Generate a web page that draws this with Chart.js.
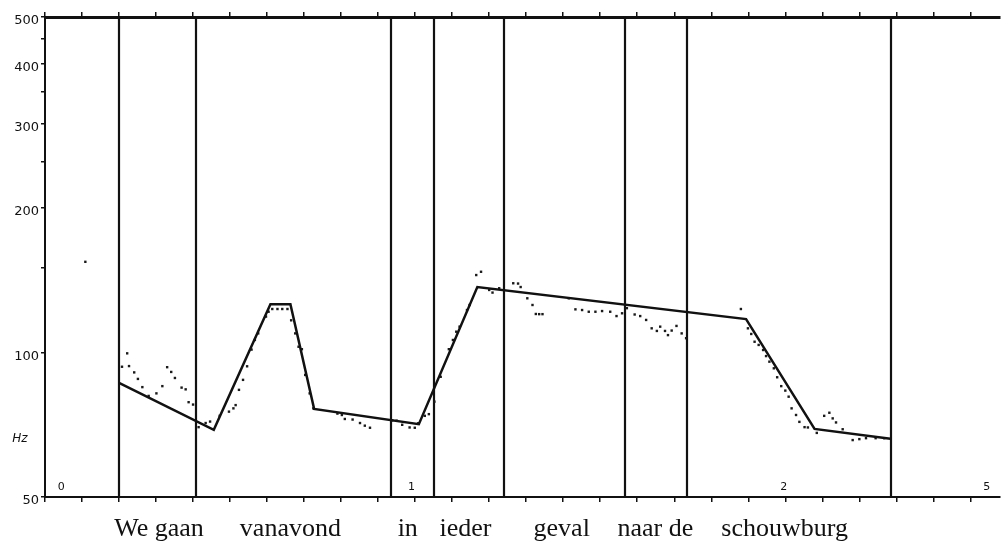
<!DOCTYPE html>
<html>
<head>
<meta charset="utf-8">
<script src="https://cdn.jsdelivr.net/npm/chart.js@4.4.0/dist/chart.umd.min.js"></script>
<style>
    html, body { margin: 0; padding: 0; background: #fff; }
</style>
</head>
<body>
<canvas id="pitchChart" width="1004" height="548"></canvas>
<script>
        // stylized pitch contour (seconds, Hz)
        const contourTimes = [0.200, 0.456, 0.609, 0.663, 0.727, 1.010, 1.168, 1.894, 2.079, 2.284];
        const contourHz = [86.4, 69.0, 126.1, 126.1, 76.3, 70.9, 136.9, 117.4, 69.3, 66.1];

        // measured pitch points
        const pitchTimes = [0.109, 0.208, 0.222, 0.227, 0.241, 0.251, 0.263, 0.280, 0.301, 0.317,
            0.330, 0.341, 0.351, 0.369, 0.380, 0.388, 0.400, 0.415, 0.434, 0.446,
            0.472, 0.497, 0.509, 0.515, 0.524, 0.535, 0.546, 0.558, 0.567, 0.576,
            0.597, 0.604, 0.614, 0.628, 0.641, 0.655, 0.665, 0.676, 0.685, 0.694,
            0.703, 0.715, 0.725, 0.790, 0.802, 0.810, 0.831, 0.851, 0.864, 0.878,
            0.938, 0.950, 0.965, 0.985, 0.999, 1.008, 1.026, 1.037, 1.052, 1.069,
            1.091, 1.102, 1.111, 1.120, 1.140, 1.147, 1.165, 1.178, 1.200, 1.209,
            1.227, 1.265, 1.278, 1.285, 1.303, 1.317, 1.326, 1.335, 1.344, 1.415,
            1.433, 1.451, 1.469, 1.487, 1.505, 1.527, 1.544, 1.559, 1.572, 1.593,
            1.608, 1.624, 1.639, 1.653, 1.662, 1.675, 1.683, 1.693, 1.706, 1.720,
            1.732, 1.880, 1.899, 1.908, 1.917, 1.928, 1.940, 1.948, 1.957, 1.969,
            1.978, 1.989, 2.000, 2.009, 2.017, 2.029, 2.038, 2.052, 2.061, 2.085,
            2.105, 2.119, 2.128, 2.137, 2.155, 2.182, 2.200, 2.218, 2.244, 2.267];
        const pitchHz = [154.5, 93.4, 99.6, 93.7, 90.9, 88.1, 84.7, 81.2, 82.2, 85.1,
            93.2, 91.1, 88.5, 84.5, 83.8, 78.8, 77.9, 69.9, 71.3, 71.8,
            73.8, 75.3, 76.5, 77.7, 83.6, 87.7, 93.6, 101.4, 106.2, 109.6,
            118.8, 121.6, 123.2, 123.2, 123.2, 123.2, 116.7, 109.6, 102.8, 101.6,
            89.8, 82.2, 76.5, 74.6, 74.1, 72.7, 72.5, 71.3, 70.4, 69.7,
            72.2, 72.1, 70.7, 69.8, 69.7, 71.2, 73.8, 74.4, 79.0, 89.0,
            101.6, 106.2, 110.5, 113.2, 122.6, 125.6, 145.0, 147.3, 135.0, 133.3,
            136.1, 139.4, 139.2, 136.9, 129.7, 125.6, 120.3, 120.2, 120.2, 129.7,
            123.0, 122.6, 121.6, 121.6, 122.0, 121.6, 119.1, 120.7, 123.7, 120.0,
            119.1, 116.9, 112.3, 110.9, 113.2, 110.9, 108.7, 111.1, 113.6, 109.6,
            107.1, 123.2, 112.3, 109.3, 105.3, 103.7, 101.2, 98.3, 95.7, 92.7,
            88.8, 85.1, 83.3, 80.9, 76.5, 74.1, 71.7, 69.9, 69.8, 68.0,
            73.8, 74.9, 72.9, 71.5, 69.2, 65.7, 66.0, 66.3, 66.3, 66.3];

        // word boundaries (seconds) and words
        const boundaryTimes = [0.200, 0.407, 0.934, 1.050, 1.240, 1.566, 1.735, 2.286];
        const words = ['We gaan', 'vanavond', 'in', 'ieder', 'geval', 'naar de', 'schouwburg'];
        const wordTimes = [0.308, 0.663, 0.980, 1.136, 1.396, 1.649, 1.998];

        // second markers written inside the plot
        const secondLabels = ['0', '1', '2', '5'];
        const secondLabelTimes = [0.044, 0.990, 1.996, 2.544];

        const yTickValues = [50, 100, 150, 200, 250, 300, 350, 400, 450, 500];
        const yLabelValues = [50, 100, 200, 300, 400, 500];
        const xMin = 0, xMax = 2.58, xStep = 0.1;

        function timeTicks() {
            let ticks = [];
            for (let i = 0; xMin + i * xStep <= xMax; i++) {
                ticks.push({ value: +(xMin + i * xStep).toFixed(2) });
            }
            return ticks;
        }

        const overlay = {
            id: 'overlay',
            beforeDatasetsDraw(chart) {
                const { ctx, chartArea, scales } = chart;
                ctx.save();
                ctx.strokeStyle = '#111';
                ctx.lineWidth = 2.2;
                boundaryTimes.forEach(t => {
                    const x = Math.round(scales.x.getPixelForValue(t));
                    ctx.beginPath();
                    ctx.moveTo(x, chartArea.top);
                    ctx.lineTo(x, chartArea.bottom);
                    ctx.stroke();
                });
                ctx.restore();
            },
            afterDraw(chart) {
                const { ctx, chartArea, scales } = chart;
                ctx.save();
                ctx.fillStyle = '#111';
                ctx.textAlign = 'center';
                ctx.textBaseline = 'alphabetic';
                ctx.font = '26px "Liberation Serif"';
                words.forEach((w, i) => {
                    ctx.fillText(w, scales.x.getPixelForValue(wordTimes[i]), 536);
                });
                ctx.font = '11px "DejaVu Sans"';
                ctx.textBaseline = 'middle';
                secondLabels.forEach((s, i) => {
                    ctx.fillText(s, scales.x.getPixelForValue(secondLabelTimes[i]), chartArea.bottom - 10);
                });
                ctx.font = 'italic 12px "DejaVu Sans"';
                ctx.fillText('Hz', 20, scales.y.getPixelForValue(66));
                ctx.restore();
            }
        };

        const ctx = document.getElementById('pitchChart').getContext('2d');

        const pitchChart = new Chart(ctx, {
            type: 'line',
            data: {
                datasets: [{
                    label: 'stylized',
                    data: contourTimes.map((t, i) => ({ x: t, y: contourHz[i] })),
                    borderColor: '#111',
                    borderWidth: 2.5,
                    pointRadius: 0,
                    tension: 0,
                    fill: false
                }, {
                    label: 'measured',
                    data: pitchTimes.map((t, i) => ({ x: t, y: pitchHz[i] })),
                    showLine: false,
                    pointStyle: 'rect',
                    pointRadius: 1.7,
                    pointBackgroundColor: '#1a1a1a',
                    pointBorderWidth: 0
                }]
            },
            options: {
                responsive: false,
                animation: false,
                layout: { padding: 0 },
                plugins: {
                    legend: { display: false },
                    tooltip: { enabled: false }
                },
                scales: {
                    x: {
                        type: 'linear',
                        position: 'bottom',
                        min: xMin,
                        max: xMax,
                        afterBuildTicks: s => { s.ticks = timeTicks(); },
                        afterFit: s => { s.height = 51; },
                        ticks: { display: false },
                        grid: { drawOnChartArea: false, drawTicks: true, tickLength: 5, color: '#111', lineWidth: 1.5 },
                        border: { display: true, color: '#111', width: 2 }
                    },
                    xTop: {
                        type: 'linear',
                        position: 'top',
                        min: xMin,
                        max: xMax,
                        afterBuildTicks: s => { s.ticks = timeTicks(); },
                        afterFit: s => { s.height = 17; },
                        ticks: { display: false },
                        grid: { drawOnChartArea: false, drawTicks: true, tickLength: 5, color: '#111', lineWidth: 1.5 },
                        border: { display: true, color: '#111', width: 3 }
                    },
                    y: {
                        type: 'logarithmic',
                        min: 50,
                        max: 500,
                        afterBuildTicks: s => { s.ticks = yTickValues.map(v => ({ value: v })); },
                        afterFit: s => { s.width = 45; },
                        ticks: {
                            color: '#111',
                            font: { family: 'DejaVu Sans', size: 13 },
                            padding: 2,
                            labelOffset: 4,
                            autoSkip: false,
                            callback: v => yLabelValues.includes(v) ? String(v) : ''
                        },
                        grid: { drawOnChartArea: false, drawTicks: true, tickLength: 4, color: '#111', lineWidth: 1.5 },
                        border: { display: true, color: '#111', width: 2 }
                    }
                }
            },
            plugins: [overlay]
        });
</script>
</body>
</html>
